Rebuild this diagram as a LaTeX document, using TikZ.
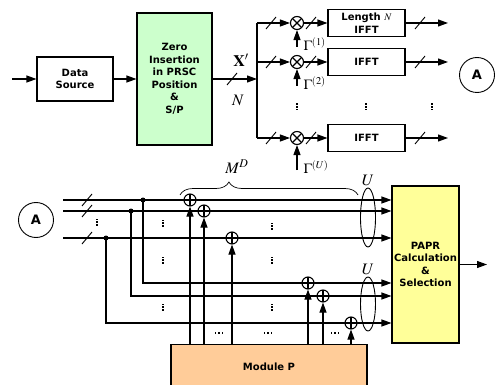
\documentclass[tikz,border=0pt]{standalone}
\usepackage{mathptmx}
\usepackage[no-math]{fontspec}
\setsansfont{DejaVu Sans}
\usepackage{amsmath}
\usepackage{tikz}
\usetikzlibrary{shapes,arrows.meta,positioning,calc,
                decorations.pathreplacing,shapes.geometric}
\definecolor{zerogreen}{RGB}{204,255,204}
\definecolor{paprylw}{RGB}{255,255,153}
\definecolor{modpeach}{RGB}{255,204,153}

\begin{document}
\begin{tikzpicture}[x=1pt,y=-1pt,line width=1.1pt,
  font=\sffamily\bfseries\fontsize{10}{12.5}\selectfont,
  >={Triangle[length=10pt,width=7pt]},
  blk/.style={draw,align=center,inner sep=1pt},
  mul/.style={draw,circle,fill=white,minimum size=13pt,inner sep=0pt,
    path picture={\draw (path picture bounding box.north west)
      -- (path picture bounding box.south east)
      (path picture bounding box.north east)
      -- (path picture bounding box.south west);}},
  add/.style={draw,circle,fill=white,minimum size=12pt,inner sep=0pt,
    path picture={\draw (path picture bounding box.north)
      -- (path picture bounding box.south)
      (path picture bounding box.east)
      -- (path picture bounding box.west);}},
  jdot/.style={circle,fill,minimum size=5pt,inner sep=0pt},
  conn/.style={draw,circle,line width=0.9pt,minimum size=35pt,inner sep=0pt,
    font=\sffamily\bfseries\fontsize{13}{13}\selectfont},
  lbl/.style={font=\fontsize{16}{16}\selectfont},
  gam/.style={font=\fontsize{14}{14}\selectfont,anchor=base west,inner sep=0pt},
  bus/.pic={\draw[line width=0.9pt] (-5,6) -- (5,-6);},
  vdots/.pic={\foreach \q in {-2.7,0,2.7} \fill (-1,\q-0.8) rectangle (1,\q+0.8);},
  hdots/.pic={\foreach \q in {-3.5,0,3.5} \fill (\q-0.9,-0.9) rectangle (\q+0.9,0.9);}]
  \clip (0,0) rectangle (498,385);

  \coordinate (in) at (12,79);
  \node[blk,minimum width=76pt,minimum height=44pt] (src) at (75,79) {Data\\Source};
  \node[blk,fill=zerogreen,minimum width=75pt,minimum height=132pt] (zip) at (174.5,79)
    {Zero\\Insertion\\in PRSC\\Position\\\&\\S/P};
  \coordinate (split) at (257,79);
  \draw[->] (in) -- (src);
  \draw[->] (src) -- (zip);
  \draw[->] (zip) -- (split);
  \pic at (232,79) {bus};
  \node[lbl] (xlbl) at (241,60) {$\mathbf{X}'$};
  \node[lbl] (nlbl) at (238,100) {$N$};

  \foreach \i/\y/\gy/\t in {1/23/47/{Length $N$\\IFFT},2/62/86/IFFT,U/138/170/IFFT}{
    \coordinate (t\i) at (257,\y);
    \node[mul] (m\i) at (297,\y) {};
    \node[blk,minimum width=77pt,minimum height=27pt] (f\i) at (366.5,\y) {\t};
    \coordinate (o\i) at (448,\y);
    \coordinate (g\i) at (297,\gy);
    \draw[->] (t\i) -- (m\i);
    \draw[->] (m\i) -- (f\i);
    \draw[->] (f\i) -- (o\i);
    \draw[->] (g\i) -- (m\i);
    \pic at (271,\y) {bus};
    \pic at (311,\y) {bus};
    \pic at (420,\y) {bus};
    \node[gam] (gam\i) at (303,\gy+4) {$\Gamma^{(\i)}$};
  }
  \draw (t1) -- (tU);
  \foreach \x in {297,366,432}
    \pic at (\x,107) {vdots};
  \node[conn] (atop) at (477,75) {A};

  \node[conn] (abot) at (36,220) {A};
  \node[blk,fill=paprylw,minimum width=67pt,minimum height=157pt] (papr) at (425.5,264.5)
    {PAPR\\Calculation\\\&\\Selection};
  \node[blk,fill=modpeach,minimum width=196pt,minimum height=44pt,anchor=north] (modp)
    at (269,344) {Module P};
  \coordinate (out) at (487,264.5);
  \draw[->] (papr) -- (out);

  \foreach \k/\y/\jx/\ly/\ax/\bx in {1/200/143/283/190/308,
                                    2/211/131/296/204/323,
                                    3/238/106/323/232/351}{
    \coordinate (s\k) at (63,\y);
    \node[jdot] (j\k) at (\jx,\y) {};
    \coordinate (c\k) at (\jx,\ly);
    \draw[->] (s\k) -- (s\k -| papr.west);
    \draw[->] (j\k.center) -- (c\k) -- (c\k -| papr.west);
    \pic at (87,\y) {bus};
    \node[add] (a\k) at (\ax,\y) {};
    \node[add] (b\k) at (\bx,\ly) {};
    \draw[->] (a\k |- modp.north) -- (a\k);
    \draw[->] (b\k |- modp.north) -- (b\k);
  }

  \node[draw,ellipse,line width=0.9pt,minimum width=15pt,minimum height=59pt,inner sep=0pt,
    label={[lbl,inner sep=0pt,label distance=1pt]above:$U$}] (ell1) at (368,217.5) {};
  \node[draw,ellipse,line width=0.9pt,minimum width=15pt,minimum height=54pt,inner sep=0pt,
    label={[lbl,inner sep=0pt,label distance=1pt]above:$U$}] (ell2) at (368,304) {};

  \coordinate (br1) at (180,195);
  \coordinate (br2) at (358,195);
  \draw[line width=0.7pt,decorate,decoration={brace,amplitude=13pt,aspect=0.275}]
    (br1) -- (br2);
  \node[lbl] (mlbl) at (237,167) {$M^D$};

  \foreach \x/\y in {97/222,163/223,163/260,163/307,272/226,272/260,272/307}
    \pic at (\x,\y) {vdots};
  \foreach \x in {219,268,335}
    \pic at (\x,333) {hdots};
\end{tikzpicture}
\end{document}
